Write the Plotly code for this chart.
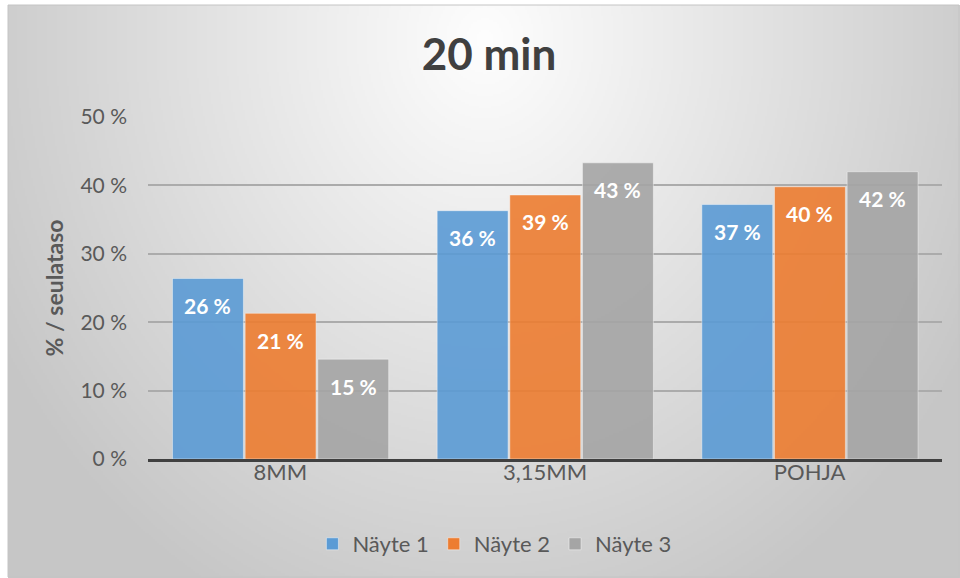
import base64
import struct
import zlib

import numpy as np
import plotly.graph_objects as go

# ---- data ----
categories = ["8MM", "3,15MM", "POHJA"]
series_names = ["Näyte 1", "Näyte 2", "Näyte 3"]
nayte_1 = [0.264, 0.363, 0.372]
nayte_2 = [0.213, 0.386, 0.398]
nayte_3 = [0.146, 0.433, 0.420]
y_tick_values = [0.0, 0.1, 0.2, 0.3, 0.4, 0.5]
y_tick_labels = ["0 %", "10 %", "20 %", "30 %", "40 %", "50 %"]
chart_title = "20 min"
y_axis_title = "% / seulataso"

series_values = [nayte_1, nayte_2, nayte_3]
series_colors = ["#5B9BD5", "#ED7D31", "#A5A5A5"]

# ---- page geometry (px) ----
W, H = 960, 578
M_L, M_R, M_T, M_B = 148, 18, 117, 119
plot_w = W - M_L - M_R
plot_h = H - M_T - M_B
area_x0, area_y0 = 8, 5  # chart area starts slightly inset from the page corner


def radial_gradient_png(w, h, scale):
    """Grey radial gradient, white near the top centre, as a PNG data URI."""
    yy, xx = np.mgrid[0:h, 0:w].astype(float)
    px = (xx + 0.5) * scale + area_x0
    py = (yy + 0.5) * scale + area_y0
    t = np.sqrt(((px - 485) / 560.0) ** 2 + ((py - 40) / 640.0) ** 2)
    t = np.clip(t, 0, 1)
    val = 254 - (254 - 198) * t
    img = np.clip(val, 0, 255).astype(np.uint8)
    raw = b"".join(b"\x00" + row.tobytes() for row in img)

    def chunk(tag, data):
        c = tag + data
        return struct.pack(">I", len(data)) + c + struct.pack(">I", zlib.crc32(c) & 0xFFFFFFFF)

    png = b"\x89PNG\r\n\x1a\n"
    png += chunk(b"IHDR", struct.pack(">IIBBBBB", w, h, 8, 0, 0, 0, 0))
    png += chunk(b"IDAT", zlib.compress(raw, 9))
    png += chunk(b"IEND", b"")
    return "data:image/png;base64," + base64.b64encode(png).decode()


bg_scale = 2
bg_w = (W - area_x0) // bg_scale
bg_h = (H - area_y0) // bg_scale + 1
bg_uri = radial_gradient_png(bg_w, bg_h, bg_scale)

# bar layout inside each category slot (category units)
bar_width = 0.268
bar_pitch = 0.2745
bar_offsets = [-0.4075 + i * bar_pitch for i in range(3)]

fig = go.Figure()
for name, vals, color, off in zip(series_names, series_values, series_colors, bar_offsets):
    fig.add_trace(
        go.Bar(
            name=name,
            x=categories,
            y=vals,
            offset=off,
            width=bar_width,
            marker=dict(
                color=color,
                opacity=0.9,
                line=dict(color="rgba(255,255,255,0.45)", width=1),
            ),
            hovertemplate="%{x}: %{y:.1%}<extra>" + name + "</extra>",
        )
    )

# value labels just below the top of every bar
annotations = []
for vals, off in zip(series_values, bar_offsets):
    for i, v in enumerate(vals):
        annotations.append(
            dict(
                x=i + off + bar_width / 2,
                y=v,
                xref="x",
                yref="y",
                text="<b>%d %%</b>" % round(v * 100),
                showarrow=False,
                yshift=-27,
                yanchor="middle",
                font=dict(family="Lato", size=21, color="white"),
            )
        )

fig.update_layout(
    width=W,
    height=H,
    margin=dict(l=M_L, r=M_R, t=M_T, b=M_B, autoexpand=False),
    paper_bgcolor="white",
    plot_bgcolor="rgba(0,0,0,0)",
    font=dict(family="Lato", color="#595959", size=20),
    title=dict(
        text="<b>" + chart_title + "</b>",
        x=489 / W,
        xref="container",
        xanchor="center",
        y=1 - 55 / H,
        yref="container",
        yanchor="middle",
        font=dict(family="Lato", size=44, color="#404040"),
    ),
    barmode="overlay",
    showlegend=True,
    legend=dict(
        orientation="h",
        xref="container",
        yref="container",
        x=0.515,
        xanchor="center",
        y=1 - 544 / H,
        yanchor="middle",
        font=dict(family="Lato", size=22, color="#595959"),
        bgcolor="rgba(0,0,0,0)",
        itemwidth=30,
        traceorder="normal",
    ),
    xaxis=dict(
        type="category",
        range=[-0.5, 2.5],
        showgrid=False,
        showline=True,
        linecolor="#404040",
        linewidth=3,
        ticks="",
        tickfont=dict(family="Lato", size=22, color="#595959"),
        ticklabelstandoff=-8,
        fixedrange=True,
    ),
    yaxis=dict(
        range=[0, 0.5],
        tickvals=y_tick_values,
        ticktext=y_tick_labels,
        showgrid=True,
        gridcolor="#ababab",
        gridwidth=1.6,
        zeroline=False,
        showline=False,
        ticks="",
        ticklabelstandoff=20,
        tickfont=dict(family="Lato", size=21, color="#595959"),
        title=dict(
            text="<b>" + y_axis_title + "</b>",
            font=dict(family="Lato", size=23, color="#595959"),
            standoff=10,
        ),
        fixedrange=True,
    ),
    annotations=annotations,
    images=[
        dict(
            source=bg_uri,
            xref="paper",
            yref="paper",
            x=(area_x0 - M_L) / plot_w,
            y=(H - M_B - area_y0) / plot_h,
            sizex=(W - area_x0) / plot_w,
            sizey=(H - area_y0) / plot_h,
            xanchor="left",
            yanchor="top",
            sizing="stretch",
            layer="below",
        )
    ],
    shapes=[
        dict(
            type="rect",
            xref="paper",
            yref="paper",
            x0=(area_x0 - M_L) / plot_w,
            x1=(W - 1 - M_L) / plot_w,
            y0=-(M_B - 1) / plot_h,
            y1=(H - M_B - area_y0) / plot_h,
            line=dict(color="#c4c4c4", width=1),
            fillcolor="rgba(0,0,0,0)",
            layer="below",
        )
    ],
)

fig.write_html("out.html", config={"displayModeBar": False})
